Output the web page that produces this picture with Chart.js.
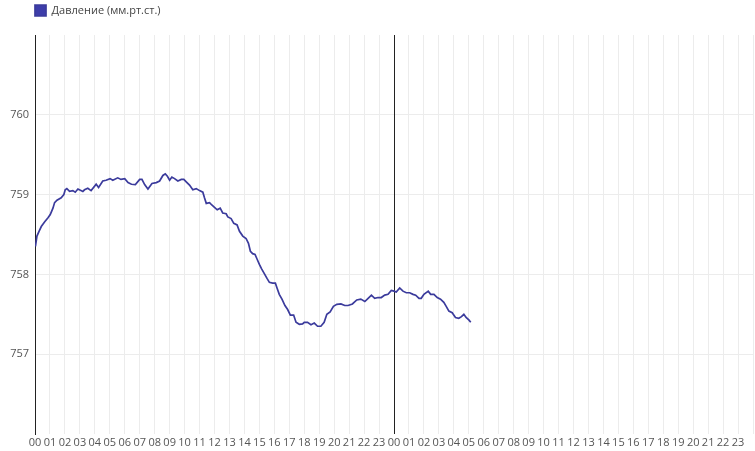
<!DOCTYPE html>
<html>
<head>
<meta charset="utf-8">
<script src="https://cdn.jsdelivr.net/npm/chart.js@4"></script>
<style>
  html, body { margin: 0; padding: 0; background: #fff; }
  #wrap { width: 755px; height: 451px; position: relative; }
</style>
</head>
<body>
<div id="wrap"><canvas id="c" width="755" height="451"></canvas></div>
<script>
const seriesLabel = 'Давление (мм.рт.ст.)';
const hours = [0.03,0.13,0.27,0.42,0.65,0.87,1.02,1.20,1.31,1.47,1.75,1.93,2.02,2.13,2.31,2.53,2.69,2.87,3.20,3.31,3.53,3.75,4.09,4.25,4.53,4.75,5.02,5.20,5.53,5.75,6.00,6.22,6.45,6.71,7.00,7.15,7.33,7.55,7.82,8.11,8.33,8.55,8.71,8.85,9.00,9.15,9.33,9.55,9.78,9.95,10.11,10.33,10.55,10.78,11.00,11.22,11.33,11.45,11.67,11.82,12.00,12.18,12.38,12.55,12.78,12.89,13.11,13.29,13.51,13.67,13.89,14.11,14.27,14.40,14.55,14.71,14.85,15.00,15.15,15.33,15.51,15.67,15.89,16.07,16.18,16.33,16.51,16.71,16.89,17.07,17.29,17.45,17.67,17.89,18.00,18.22,18.45,18.67,18.89,19.11,19.33,19.51,19.73,19.95,20.18,20.45,20.71,20.93,21.22,21.51,21.78,22.05,22.27,22.49,22.71,22.93,23.15,23.38,23.60,23.82,24.00,24.15,24.38,24.60,24.82,25.05,25.27,25.45,25.67,25.82,26.00,26.29,26.45,26.67,26.89,27.11,27.33,27.49,27.67,27.89,28.11,28.33,28.51,28.67,28.82,29.00,29.13];
const pressure = [758.35,758.48,758.54,758.60,758.66,758.71,758.75,758.83,758.90,758.93,758.96,759.00,759.06,759.075,759.04,759.05,759.03,759.07,759.04,759.06,759.08,759.05,759.13,759.09,759.17,759.18,759.20,759.18,759.21,759.19,759.20,759.15,759.13,759.125,759.19,759.19,759.125,759.07,759.14,759.15,759.17,759.24,759.26,759.23,759.18,759.22,759.20,759.17,759.19,759.19,759.16,759.12,759.06,759.075,759.05,759.03,758.96,758.89,758.90,758.87,758.84,758.81,758.83,758.77,758.76,758.72,758.70,758.64,758.62,758.54,758.48,758.45,758.39,758.29,758.26,758.25,758.19,758.125,758.07,758.01,757.95,757.90,757.89,757.89,757.83,757.75,757.69,757.61,757.56,757.49,757.49,757.40,757.375,757.38,757.40,757.40,757.37,757.39,757.35,757.35,757.40,757.50,757.53,757.60,757.625,757.63,757.61,757.61,757.63,757.68,757.69,757.66,757.70,757.74,757.70,757.71,757.71,757.74,757.75,757.80,757.79,757.78,757.83,757.79,757.77,757.77,757.75,757.74,757.70,757.70,757.75,757.79,757.75,757.75,757.71,757.69,757.65,757.60,757.54,757.52,757.46,757.45,757.47,757.50,757.46,757.43,757.40];
const xMin = 0, xMax = 48;
const yMin = 756, yMax = 761;
const hourLabels = ['00','01','02','03','04','05','06','07','08','09','10','11','12','13','14','15','16','17','18','19','20','21','22','23'];

const points = hours.map((h, i) => ({ x: h, y: pressure[i] }));
const font = { family: "'Open Sans', sans-serif", size: 11 };

const legendTweak = {
  id: 'legendTweak',
  beforeInit(chart) {
    const lg = chart.legend;
    const origFit = lg.fit;
    lg.fit = function () { origFit.call(this); this.height += 9; };
  },
  afterLayout(chart) {
    const lg = chart.legend;
    const pad = lg.options.labels.padding;
    const dx = chart.chartArea.left - pad - lg.left;
    lg.left += dx; lg.right += dx;
  }
};

new Chart(document.getElementById('c'), {
  type: 'line',
  data: {
    datasets: [{
      label: seriesLabel,
      data: points,
      borderColor: '#3b3b9c',
      backgroundColor: '#3d3daa',
      borderWidth: 1.7,
      pointRadius: 0,
      tension: 0,
      fill: false
    }]
  },
  options: {
    responsive: false,
    animation: false,
    layout: { padding: 0 },
    plugins: {
      legend: {
        display: true,
        position: 'top',
        align: 'start',
        labels: { boxWidth: 11, boxHeight: 11, padding: 5, color: '#444', font }
      },
      tooltip: { enabled: false }
    },
    scales: {
      x: {
        type: 'linear',
        min: xMin, max: xMax,
        afterFit(s) { s.height = 17; },
        ticks: {
          stepSize: 1, autoSkip: false, maxRotation: 0, padding: 2,
          color: '#555', font,
          callback: v => (v < xMax ? hourLabels[v % 24] : '')
        },
        grid: {
          z: -1,
          drawTicks: false,
          color: ctx => (ctx.tick && ctx.tick.value === 24 ? '#222' : (ctx.tick && ctx.tick.value === 0 ? 'rgba(0,0,0,0)' : '#ececec')),
          lineWidth: 1
        },
        border: { display: false }
      },
      y: {
        min: yMin, max: yMax,
        afterFit(s) { s.width = 35; },
        ticks: {
          stepSize: 1, padding: 6, color: '#555', font,
          callback: v => (v === yMin || v === yMax ? '' : String(v))
        },
        grid: {
          z: -2,
          drawTicks: false,
          color: ctx => (ctx.tick && (ctx.tick.value === yMin || ctx.tick.value === yMax) ? 'rgba(0,0,0,0)' : '#ececec'),
          lineWidth: 1
        },
        border: { display: true, color: '#222', width: 1 }
      }
    }
  },
  plugins: [legendTweak]
});
</script>
</body>
</html>
